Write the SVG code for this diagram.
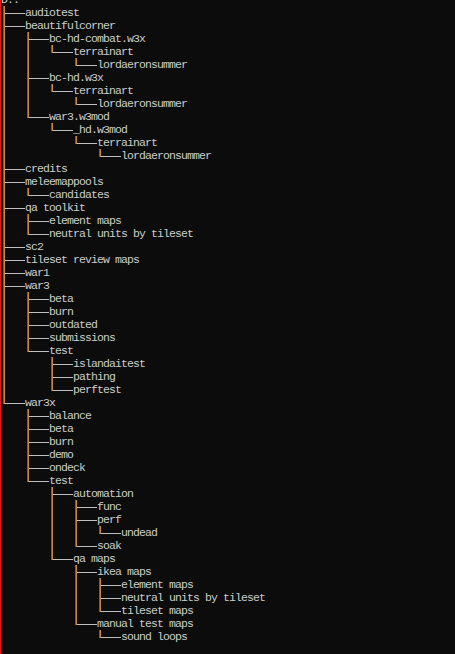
<svg xmlns="http://www.w3.org/2000/svg" xmlns:xlink="http://www.w3.org/1999/xlink" width="455" height="654" viewBox="0 0 455 654">
<style>
.t{font-family:"Liberation Mono","DejaVu Sans Mono",monospace;font-size:11.5px;letter-spacing:-0.9px;fill:#cccccc;}
.h{fill:none;stroke:#c0c0c0;stroke-width:1;}
.vo{fill:none;stroke:#c88a40;stroke-width:1;}
.vb{fill:none;stroke:#3a68a0;stroke-width:1;}
</style>
<defs>
<path id="vpath" d="M4.5 6V404M28.5 32V118M52.5 45V53M76.5 58V66M52.5 84V92M76.5 97V105M52.5 123V131M76.5 136V144M100.5 149V157M28.5 188V196M28.5 214V235M28.5 292V352M52.5 357V391M28.5 409V482M52.5 487V560M76.5 500V547M100.5 526V534M76.5 565V625M100.5 578V612M100.5 630V638"/>
</defs>
<rect x="0" y="0" width="455" height="654" fill="#0c0c0c"/>
<rect x="0" y="0" width="1" height="654" fill="#e4161e"/>
<g id="connectors">
<path class="h" d="M5 13.5H25M5 26.5H25M29 39.5H49M53 52.5H73M77 65.5H97M29 78.5H49M53 91.5H73M77 104.5H97M29 117.5H49M53 130.5H73M77 143.5H97M101 156.5H121M5 169.5H25M5 182.5H25M29 195.5H49M5 208.5H25M29 221.5H49M29 234.5H49M5 247.5H25M5 260.5H25M5 273.5H25M5 286.5H25M29 299.5H49M29 312.5H49M29 325.5H49M29 338.5H49M29 351.5H49M53 364.5H73M53 377.5H73M53 390.5H73M5 403.5H25M29 416.5H49M29 429.5H49M29 442.5H49M29 455.5H49M29 468.5H49M29 481.5H49M53 494.5H73M77 507.5H97M77 520.5H97M101 533.5H121M77 546.5H97M53 559.5H73M77 572.5H97M101 585.5H121M101 598.5H121M101 611.5H121M77 624.5H97M101 637.5H121"/>
<use xlink:href="#vpath" href="#vpath" class="vb" transform="translate(-1,0)"/>
<use xlink:href="#vpath" href="#vpath" class="vo"/>
</g>
<g id="n0"><text class="t" x="1" y="3">D:.</text></g>
<g id="n1"><text class="t" x="25" y="16">audiotest</text></g>
<g id="n2"><text class="t" x="25" y="29">beautifulcorner</text></g>
<g id="n3"><text class="t" x="49" y="42">bc-hd-combat.w3x</text></g>
<g id="n4"><text class="t" x="73" y="55">terrainart</text></g>
<g id="n5"><text class="t" x="97" y="68">lordaeronsummer</text></g>
<g id="n6"><text class="t" x="49" y="81">bc-hd.w3x</text></g>
<g id="n7"><text class="t" x="73" y="94">terrainart</text></g>
<g id="n8"><text class="t" x="97" y="107">lordaeronsummer</text></g>
<g id="n9"><text class="t" x="49" y="120">war3.w3mod</text></g>
<g id="n10"><text class="t" x="73" y="133">_hd.w3mod</text></g>
<g id="n11"><text class="t" x="97" y="146">terrainart</text></g>
<g id="n12"><text class="t" x="121" y="159">lordaeronsummer</text></g>
<g id="n13"><text class="t" x="25" y="172">credits</text></g>
<g id="n14"><text class="t" x="25" y="185">meleemappools</text></g>
<g id="n15"><text class="t" x="49" y="198">candidates</text></g>
<g id="n16"><text class="t" x="25" y="211">qa toolkit</text></g>
<g id="n17"><text class="t" x="49" y="224">element maps</text></g>
<g id="n18"><text class="t" x="49" y="237">neutral units by tileset</text></g>
<g id="n19"><text class="t" x="25" y="250">sc2</text></g>
<g id="n20"><text class="t" x="25" y="263">tileset review maps</text></g>
<g id="n21"><text class="t" x="25" y="276">war1</text></g>
<g id="n22"><text class="t" x="25" y="289">war3</text></g>
<g id="n23"><text class="t" x="49" y="302">beta</text></g>
<g id="n24"><text class="t" x="49" y="315">burn</text></g>
<g id="n25"><text class="t" x="49" y="328">outdated</text></g>
<g id="n26"><text class="t" x="49" y="341">submissions</text></g>
<g id="n27"><text class="t" x="49" y="354">test</text></g>
<g id="n28"><text class="t" x="73" y="367">islandaitest</text></g>
<g id="n29"><text class="t" x="73" y="380">pathing</text></g>
<g id="n30"><text class="t" x="73" y="393">perftest</text></g>
<g id="n31"><text class="t" x="25" y="406">war3x</text></g>
<g id="n32"><text class="t" x="49" y="419">balance</text></g>
<g id="n33"><text class="t" x="49" y="432">beta</text></g>
<g id="n34"><text class="t" x="49" y="445">burn</text></g>
<g id="n35"><text class="t" x="49" y="458">demo</text></g>
<g id="n36"><text class="t" x="49" y="471">ondeck</text></g>
<g id="n37"><text class="t" x="49" y="484">test</text></g>
<g id="n38"><text class="t" x="73" y="497">automation</text></g>
<g id="n39"><text class="t" x="97" y="510">func</text></g>
<g id="n40"><text class="t" x="97" y="523">perf</text></g>
<g id="n41"><text class="t" x="121" y="536">undead</text></g>
<g id="n42"><text class="t" x="97" y="549">soak</text></g>
<g id="n43"><text class="t" x="73" y="562">qa maps</text></g>
<g id="n44"><text class="t" x="97" y="575">ikea maps</text></g>
<g id="n45"><text class="t" x="121" y="588">element maps</text></g>
<g id="n46"><text class="t" x="121" y="601">neutral units by tileset</text></g>
<g id="n47"><text class="t" x="121" y="614">tileset maps</text></g>
<g id="n48"><text class="t" x="97" y="627">manual test maps</text></g>
<g id="n49"><text class="t" x="121" y="640">sound loops</text></g>
</svg>
